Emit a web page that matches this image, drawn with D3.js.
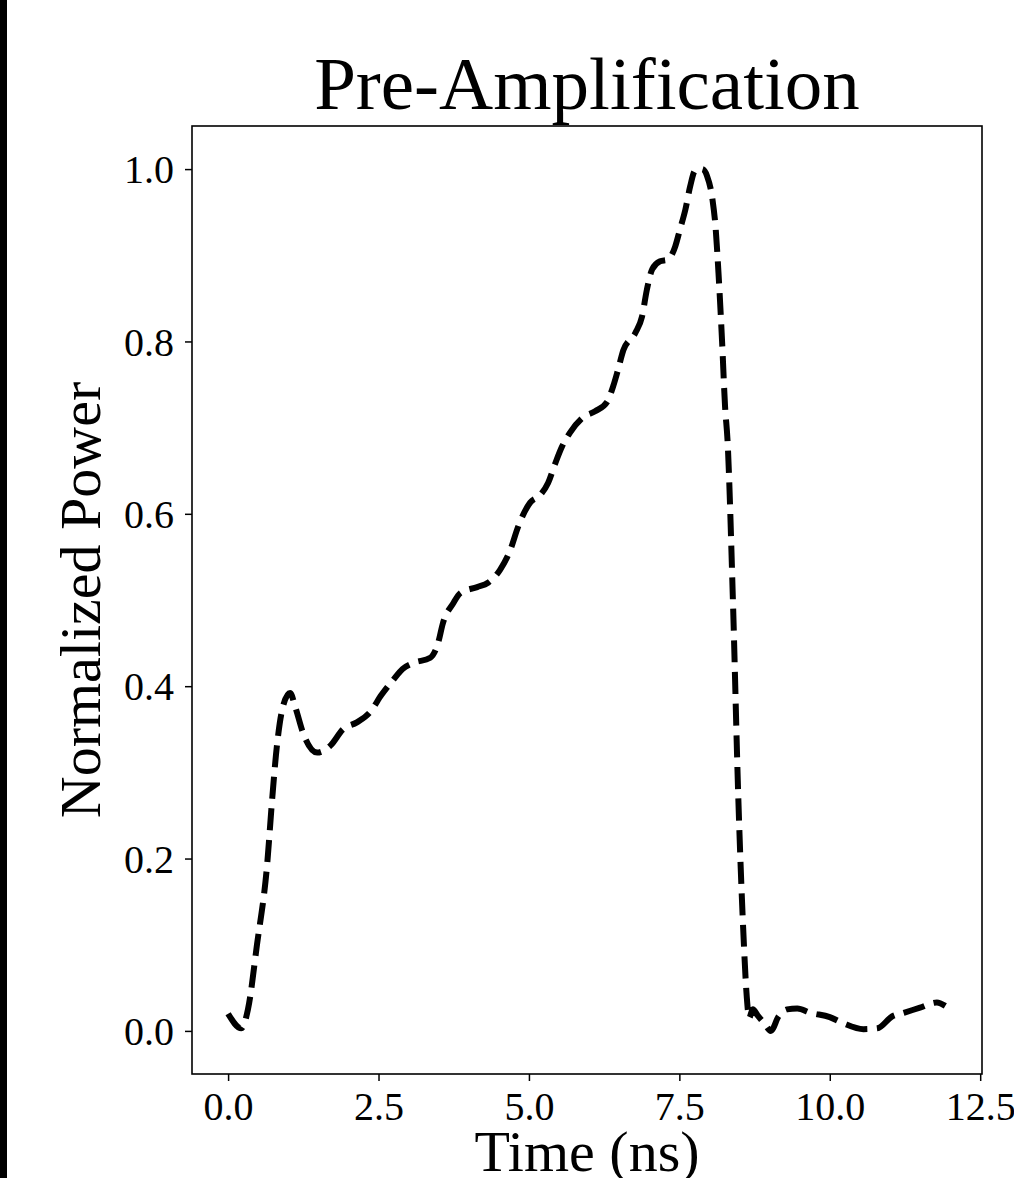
<!DOCTYPE html>
<html>
<head>
<meta charset="utf-8">
<script src="https://cdn.jsdelivr.net/npm/d3@7"></script>
<style>
  html, body { margin: 0; padding: 0; background: #fff; }
  svg { display: block; }
</style>
</head>
<body>
<svg id="chart"></svg>
<script>
// Pulse shape
const timeNs = [
  0.00, 0.22, 0.33, 0.48, 0.65, 0.73, 0.81, 0.91, 1.03, 1.12,
  1.25, 1.48, 1.70, 1.91, 2.14, 2.36, 2.55, 2.74, 2.90, 3.08,
  3.36, 3.49, 3.57, 3.74, 3.86, 4.14, 4.32, 4.52, 4.69, 4.82,
  5.02, 5.19, 5.32, 5.44, 5.55, 5.68, 5.90, 6.10, 6.30, 6.40,
  6.48, 6.57, 6.77, 6.88, 6.96, 7.05, 7.18, 7.31, 7.43, 7.51,
  7.60, 7.68, 7.76, 7.88, 7.96, 8.05, 8.10, 8.15, 8.21, 8.26,
  8.30, 8.39, 8.48, 8.56, 8.62, 8.66, 8.72, 8.80, 8.92, 9.02,
  9.15, 9.29, 9.46, 9.68, 10.00, 10.22, 10.56, 10.79, 11.04, 11.23,
  11.50, 11.78, 11.92
];
const power = [
  0.020, 0.003, 0.025, 0.100, 0.194, 0.267, 0.330, 0.376, 0.392, 0.375,
  0.345, 0.323, 0.331, 0.350, 0.358, 0.370, 0.390, 0.407, 0.420, 0.427,
  0.433, 0.450, 0.473, 0.496, 0.508, 0.515, 0.520, 0.535, 0.558, 0.585,
  0.613, 0.622, 0.636, 0.659, 0.678, 0.694, 0.712, 0.719, 0.730, 0.748,
  0.767, 0.790, 0.810, 0.829, 0.860, 0.884, 0.893, 0.895, 0.910, 0.930,
  0.953, 0.980, 0.998, 1.000, 0.992, 0.965, 0.934, 0.880, 0.800, 0.724,
  0.686, 0.500, 0.270, 0.120, 0.040, 0.015, 0.025, 0.018, 0.008, 0.000,
  0.017, 0.025, 0.026, 0.021, 0.016, 0.009, 0.002, 0.003, 0.017, 0.021,
  0.027, 0.033, 0.029
];
const xTicks = [0, 2.5, 5, 7.5, 10, 12.5];
const yTicks = [0, 0.2, 0.4, 0.6, 0.8, 1.0];

const width = 1014;
const height = 1178;
const plot = { left: 192, right: 982, top: 126, bottom: 1074 };
const font = '"Liberation Serif", "Times New Roman", serif';

const svg = d3.select('#chart')
  .attr('width', width)
  .attr('height', height);

svg.append('rect')
  .attr('width', width)
  .attr('height', height)
  .attr('fill', '#fff');

// dark strip on the left edge
svg.append('rect')
  .attr('x', 0)
  .attr('y', 0)
  .attr('width', 7)
  .attr('height', height)
  .attr('fill', '#000');

// Scales
const x = d3.scaleLinear()
  .domain([-0.6, 12.53])
  .range([plot.left, plot.right]);

const y = d3.scaleLinear()
  .domain([-0.05, 1.05])
  .range([plot.bottom, plot.top]);

// Axes
const xAxis = svg.append('g')
  .attr('transform', `translate(0,${plot.bottom})`)
  .call(d3.axisBottom(x).tickValues(xTicks).tickSize(7).tickPadding(11).tickFormat(d3.format('.1f')));

const yAxis = svg.append('g')
  .attr('transform', `translate(${plot.left},0)`)
  .call(d3.axisLeft(y).tickValues(yTicks).tickSize(7).tickPadding(11).tickFormat(d3.format('.1f')));

[xAxis, yAxis].forEach(g => {
  g.select('.domain').remove();
  g.selectAll('.tick line').attr('stroke', '#000').attr('stroke-width', 1.5);
  g.selectAll('.tick text')
    .attr('fill', '#000')
    .style('font-family', font)
    .style('font-size', '40px');
});
yAxis.selectAll('.tick text').attr('dy', '0.34em');
xAxis.selectAll('.tick text').attr('dy', '0.71em');

// Pulse line
const line = d3.line()
  .x((d, i) => x(timeNs[i]))
  .y(d => y(d))
  .curve(d3.curveMonotoneX);

svg.append('path')
  .datum(power)
  .attr('d', line)
  .attr('fill', 'none')
  .attr('stroke', '#000')
  .attr('stroke-width', 6)
  .attr('stroke-dasharray', '22,9.6')
  .attr('stroke-linecap', 'butt')
  .attr('stroke-linejoin', 'round');

// Frame
svg.append('rect')
  .attr('x', plot.left)
  .attr('y', plot.top)
  .attr('width', plot.right - plot.left)
  .attr('height', plot.bottom - plot.top)
  .attr('fill', 'none')
  .attr('stroke', '#000')
  .attr('stroke-width', 1.6);

// Title and labels
svg.append('text')
  .attr('x', (plot.left + plot.right) / 2)
  .attr('y', 109)
  .attr('text-anchor', 'middle')
  .style('font-family', font)
  .style('font-size', '75px')
  .text('Pre-Amplification');

svg.append('text')
  .attr('x', (plot.left + plot.right) / 2)
  .attr('y', 1171)
  .attr('text-anchor', 'middle')
  .style('font-family', font)
  .style('font-size', '58px')
  .text('Time (ns)');

svg.append('text')
  .attr('transform', `translate(100,${(plot.top + plot.bottom) / 2}) rotate(-90)`)
  .attr('text-anchor', 'middle')
  .style('font-family', font)
  .style('font-size', '58px')
  .text('Normalized Power');
</script>
</body>
</html>
